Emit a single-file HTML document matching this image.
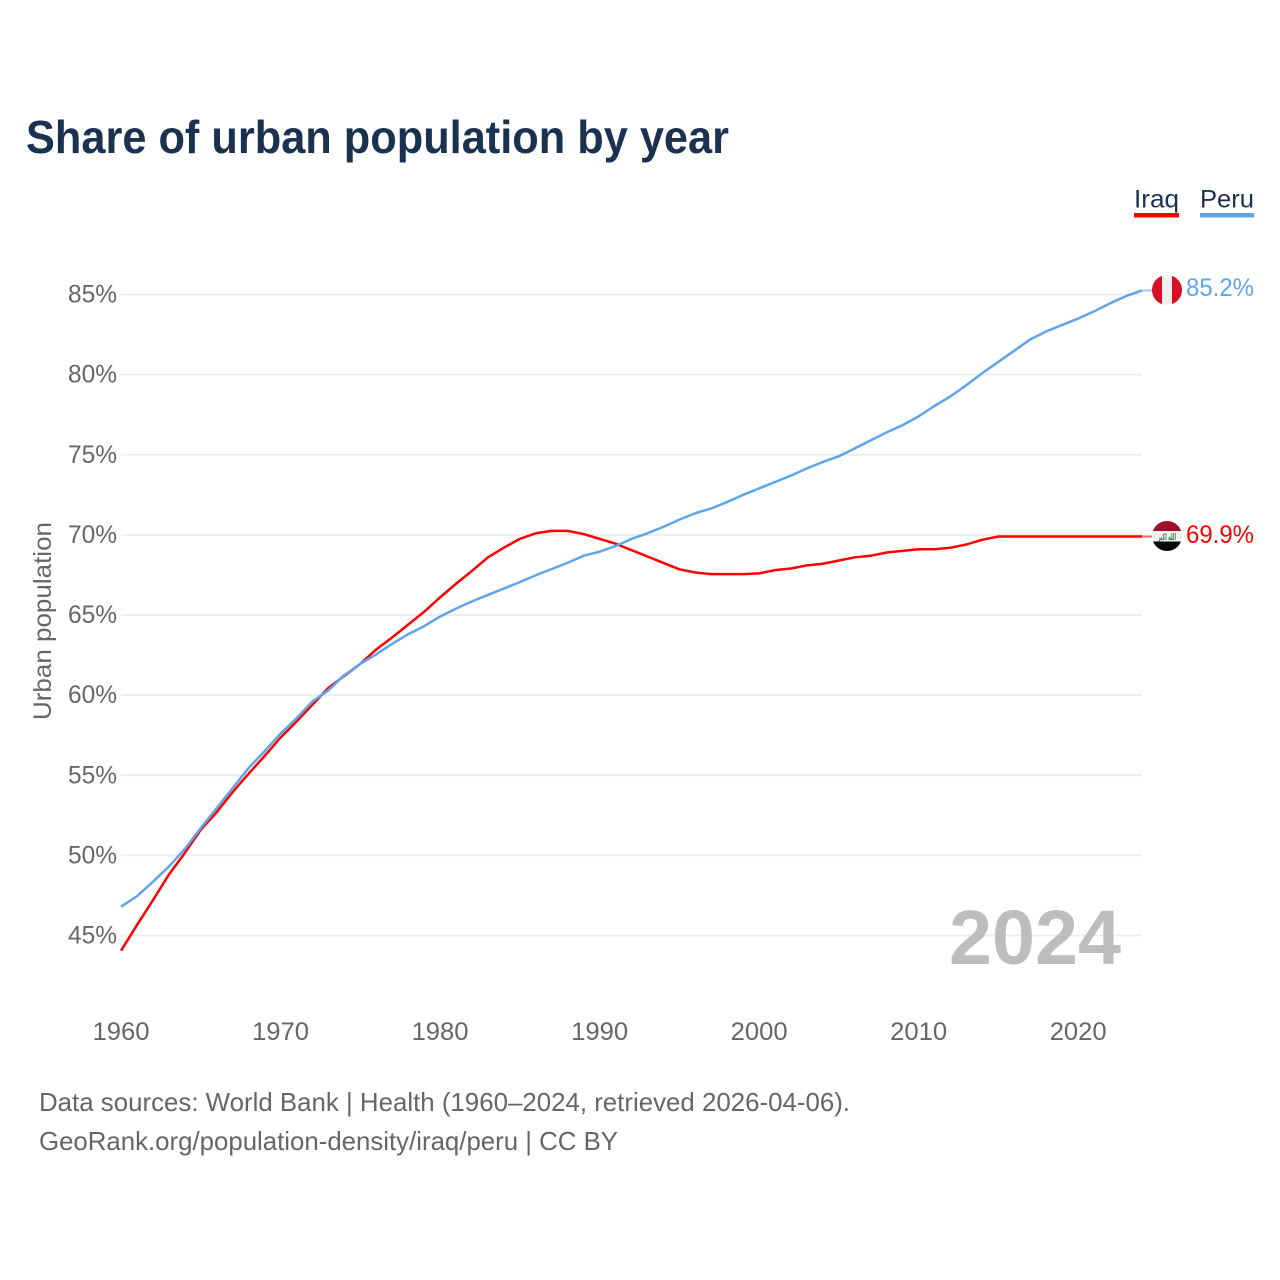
<!DOCTYPE html>
<html lang="en">
<head>
<meta charset="utf-8">
<title>Share of urban population by year</title>
<style>
html,body{margin:0;padding:0;background:#fff;width:1280px;height:1280px;overflow:hidden}
svg{display:block;font-family:"Liberation Sans",sans-serif}
</style>
</head>
<body>
<svg id="chart" width="1280" height="1280" viewBox="0 0 1280 1280" xmlns="http://www.w3.org/2000/svg">
  <defs>
    <clipPath id="peru-clip"><circle cx="1167" cy="290" r="15"/></clipPath>
    <clipPath id="iraq-clip"><circle cx="1167" cy="536" r="15"/></clipPath>
  </defs>
  <rect width="1280" height="1280" fill="#fff"/>
  <text x="26" y="153" font-size="46" font-weight="700" fill="#1a3150" textLength="703" lengthAdjust="spacingAndGlyphs">Share of urban population by year</text>

  <g id="grid"></g>
  <g id="yticks"></g>
  <g id="xticks"></g>
  <text transform="translate(51,720) rotate(-90)" font-size="25" fill="#666" textLength="198" lengthAdjust="spacingAndGlyphs">Urban population</text>

  <text x="949" y="964" font-size="77" font-weight="700" fill="#bdbdbd" textLength="172" lengthAdjust="spacingAndGlyphs">2024</text>

  <g id="series"></g>

  <g clip-path="url(#peru-clip)">
    <rect x="1152" y="275" width="10" height="30" fill="#d91023"/>
    <rect x="1162" y="275" width="10" height="30" fill="#f0f0f0"/>
    <rect x="1172" y="275" width="10" height="30" fill="#d91023"/>
  </g>
  <g clip-path="url(#iraq-clip)">
    <rect x="1152" y="521" width="30" height="10" fill="#a00d2b"/>
    <rect x="1152" y="531" width="30" height="10.5" fill="#f0f0f0"/>
    <rect x="1152" y="541.5" width="30" height="10" fill="#0a0a0a"/>
    <text x="1167" y="540" text-anchor="middle" font-size="9" font-weight="700" fill="#3f7a3a" textLength="18" lengthAdjust="spacingAndGlyphs" style="font-family:'DejaVu Sans',sans-serif">الله اكبر</text>
  </g>

  <text x="1186" y="296" font-size="25" fill="#5ea5ec" textLength="68" lengthAdjust="spacingAndGlyphs">85.2%</text>
  <text x="1186" y="543" font-size="25" fill="#ff0000" textLength="68" lengthAdjust="spacingAndGlyphs">69.9%</text>

  <g>
    <g>
      <text x="1134" y="207.500" font-size="25" fill="#1a3150" textLength="45" lengthAdjust="spacingAndGlyphs">Iraq</text>
      <rect x="1134" y="213" width="45" height="4.5" fill="#ff0000"/>
    </g>
    <g>
      <text x="1200" y="207.500" font-size="25" fill="#1a3150" textLength="54" lengthAdjust="spacingAndGlyphs">Peru</text>
      <rect x="1200" y="213" width="54" height="4.5" fill="#5ea5ec"/>
    </g>
  </g>

  <text x="39" y="1111" font-size="26" fill="#666" textLength="811" lengthAdjust="spacingAndGlyphs">Data sources: World Bank | Health (1960–2024, retrieved 2026-04-06).</text>
  <text x="39" y="1150" font-size="26" fill="#666" textLength="579" lengthAdjust="spacingAndGlyphs">GeoRank.org/population-density/iraq/peru | CC BY</text>
</svg>
<script>
const years = [1960,1961,1962,1963,1964,1965,1966,1967,1968,1969,1970,1971,1972,1973,1974,1975,1976,1977,1978,1979,1980,1981,1982,1983,1984,1985,1986,1987,1988,1989,1990,1991,1992,1993,1994,1995,1996,1997,1998,1999,2000,2001,2002,2003,2004,2005,2006,2007,2008,2009,2010,2011,2012,2013,2014,2015,2016,2017,2018,2019,2020,2021,2022,2023,2024];
const iraqValues = [44.05,45.65,47.2,48.8,50.15,51.6,52.7,53.95,55.1,56.2,57.35,58.35,59.4,60.45,61.2,61.95,62.85,63.6,64.4,65.2,66.1,66.95,67.75,68.6,69.2,69.75,70.1,70.25,70.25,70.05,69.75,69.45,69.05,68.65,68.25,67.85,67.65,67.55,67.55,67.55,67.6,67.8,67.9,68.1,68.2,68.4,68.6,68.7,68.9,69.0,69.1,69.1,69.2,69.4,69.7,69.9,69.9,69.9,69.9,69.9,69.9,69.9,69.9,69.9,69.9];
const peruValues = [46.8,47.45,48.35,49.3,50.4,51.7,52.95,54.2,55.45,56.5,57.6,58.55,59.6,60.3,61.25,61.95,62.55,63.2,63.8,64.3,64.9,65.4,65.85,66.25,66.65,67.05,67.48,67.87,68.26,68.7,68.95,69.3,69.75,70.1,70.5,70.95,71.35,71.65,72.05,72.5,72.9,73.3,73.7,74.15,74.55,74.9,75.4,75.9,76.4,76.85,77.4,78.05,78.65,79.35,80.1,80.8,81.5,82.2,82.7,83.1,83.5,83.95,84.45,84.9,85.25];
const yTickValues = [45,50,55,60,65,70,75,80,85];
const xTickValues = [1960,1970,1980,1990,2000,2010,2020];

const NS = 'http://www.w3.org/2000/svg';
const xOf = function (year) { return 121 + (year - 1960) * (1142 - 121) / 64; };
const yOf = function (pct) { return 935.5 - (pct - 45) * (935.5 - 294.5) / 40; };

const grid = document.getElementById('grid');
const yticks = document.getElementById('yticks');
yTickValues.forEach(function (v) {
  const line = document.createElementNS(NS, 'line');
  line.setAttribute('x1', xOf(1960));
  line.setAttribute('x2', xOf(2024));
  line.setAttribute('y1', yOf(v));
  line.setAttribute('y2', yOf(v));
  line.setAttribute('stroke', '#ececec');
  line.setAttribute('stroke-width', '1.7');
  
  
  grid.appendChild(line);
  const label = document.createElementNS(NS, 'text');
  label.setAttribute('x', 68);
  label.setAttribute('y', yOf(v) + 8);
  label.setAttribute('font-size', '25');
  label.setAttribute('fill', '#666');
  label.setAttribute('textLength', '49');
  label.setAttribute('lengthAdjust', 'spacingAndGlyphs');
  label.textContent = v + '%';
  
  
  yticks.appendChild(label);
});

const xticks = document.getElementById('xticks');
xTickValues.forEach(function (y) {
  const label = document.createElementNS(NS, 'text');
  label.setAttribute('x', xOf(y));
  label.setAttribute('y', 1040);
  label.setAttribute('font-size', '25');
  label.setAttribute('fill', '#666');
  label.setAttribute('text-anchor', 'middle');
  label.setAttribute('textLength', '57');
  label.setAttribute('lengthAdjust', 'spacingAndGlyphs');
  label.textContent = y;
  
  
  xticks.appendChild(label);
});

const seriesGroup = document.getElementById('series');
function drawSeries(values, color, name) {
  const pts = values.map(function (v, i) { return xOf(years[i]).toFixed(2) + ',' + yOf(v).toFixed(2); });
  const lastY = yOf(values[values.length - 1]);
  const line = document.createElementNS(NS, 'polyline');
  line.setAttribute('points', pts.join(' '));
  line.setAttribute('fill', 'none');
  line.setAttribute('stroke', color);
  line.setAttribute('stroke-width', '2.5');
  line.setAttribute('stroke-linejoin', 'round');
  
  
  seriesGroup.appendChild(line);
  const lead = document.createElementNS(NS, 'line');
  lead.setAttribute('x1', xOf(years[years.length - 1]));
  lead.setAttribute('x2', 1153);
  lead.setAttribute('y1', lastY);
  lead.setAttribute('y2', lastY);
  lead.setAttribute('stroke', color);
  lead.setAttribute('stroke-width', '2');
  lead.setAttribute('stroke-opacity', '0.6');
  
  
  seriesGroup.appendChild(lead);
}
drawSeries(iraqValues, '#ff0000', 'iraq');
drawSeries(peruValues, '#5ea5ec', 'peru');
</script>
</body>
</html>
